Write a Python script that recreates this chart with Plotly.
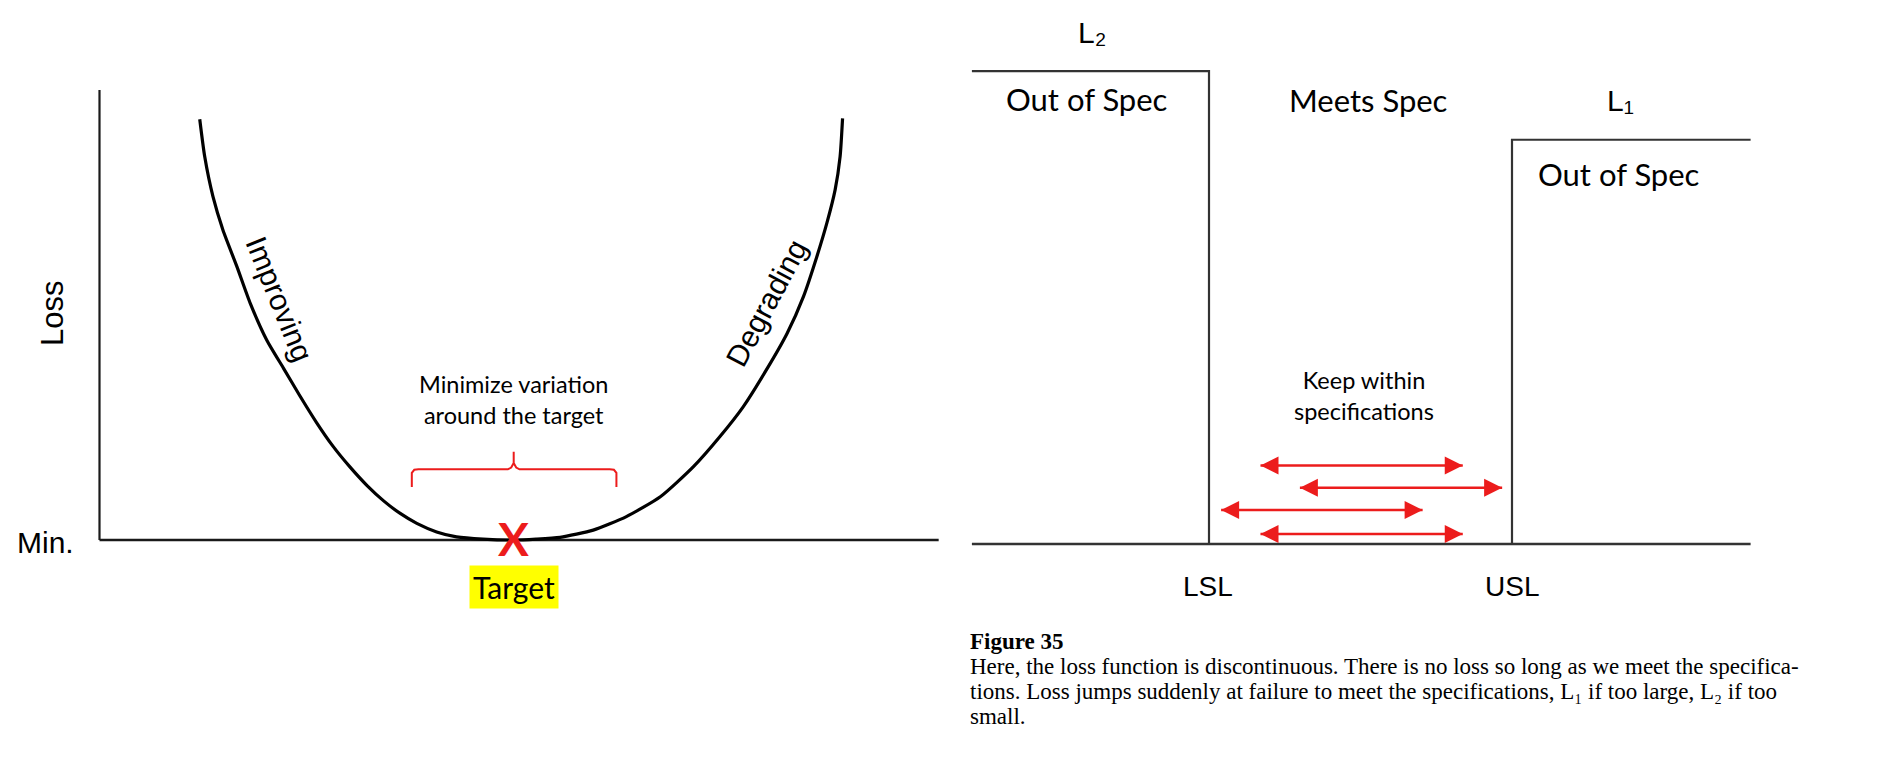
import plotly.graph_objects as go

# ---------------- data ----------------
# Left panel: loss curve (quality characteristic vs. loss)
curve_x = [1.21, 1.27, 1.37, 1.49, 1.66, 1.82, 2.02, 2.22, 2.42, 2.62, 2.82, 3.02, 3.23, 3.43,
           3.63, 3.83, 4.07, 4.31, 4.63, 5.00, 5.27, 5.56, 5.96, 6.36, 6.77, 7.17, 7.49, 7.77,
           8.05, 8.30, 8.50, 8.66, 8.78, 8.88, 8.94, 8.97]
curve_y = [9.35, 8.52, 7.63, 6.89, 6.07, 5.26, 4.44, 3.82, 3.20, 2.61, 2.08, 1.63, 1.21, 0.87,
           0.59, 0.37, 0.18, 0.07, 0.02, 0.00, 0.02, 0.06, 0.22, 0.52, 0.96, 1.63, 2.30, 2.96,
           3.78, 4.59, 5.42, 6.30, 7.04, 7.78, 8.52, 9.37]
target_x = 5.0
min_loss = 0.0
left_axis_x = [0.0, 10.13]
left_axis_y = [0.0, 10.0]
brace_x = [3.77, 3.77, 3.80, 3.85, 4.93, 4.97, 5.00, 5.00, 5.00, 5.03, 5.07, 6.16, 6.21, 6.24, 6.24]
brace_y = [1.18, 1.49, 1.56, 1.57, 1.57, 1.61, 1.71, 1.96, 1.71, 1.61, 1.57, 1.57, 1.56, 1.49, 1.18]

# Right panel: discontinuous (step) loss function
LSL, USL = 3.0, 7.0
L1, L2 = 8.55, 10.0
spec_x_start, spec_x_end = -0.13, 10.15
arrow_left = [3.68, 4.20, 3.16, 3.68]
arrow_right = [6.35, 6.87, 5.82, 6.35]
arrow_y = [1.66, 1.19, 0.72, 0.21]

caption_title = "Figure 35"
caption_lines = [
    "Here, the loss function is discontinuous. There is no loss so long as we meet the specifica-",
    "tions. Loss jumps suddenly at failure to meet the specifications, L\u2081 if too large, L\u2082 if too",
    "small.",
]

# ---------------- layout helpers ----------------
PAGE_W, PAGE_H = 1898, 762
OFF = 8                      # default body margin of the html page
Wf, Hf = PAGE_W - 2 * OFF, PAGE_H - 2 * OFF - 2
RED = "#ec1c1c"
SANS = "Liberation Sans, Arial, sans-serif"
CAL = "Lato, Open Sans, sans-serif"
SERIF = "Liberation Serif, Times New Roman, serif"

# left panel scale (page pixels)
Lx0, Lppx, Ly0, Lppy = 99.5, 82.84, 540.0, 45.0
# right panel scale (page pixels)
Rx_lsl, Rppx, Ry0, Rppy = 1209.0, 75.75, 544.0, 47.28
SPLIT = 949

def fx(xp):
    return (xp - OFF) / Wf

def fy(yp):
    return 1 - (yp - OFF) / Hf

fig = go.Figure()

# left panel axes lines
fig.add_trace(go.Scatter(x=left_axis_x, y=[min_loss, min_loss], mode="lines",
                         line=dict(color="#1a1a1a", width=2.4), xaxis="x", yaxis="y",
                         hoverinfo="skip"))
fig.add_trace(go.Scatter(x=[0, 0], y=left_axis_y, mode="lines",
                         line=dict(color="#1a1a1a", width=2.2), xaxis="x", yaxis="y",
                         hoverinfo="skip"))
# loss curve
fig.add_trace(go.Scatter(x=curve_x, y=curve_y, mode="lines",
                         line=dict(color="black", width=3.2, shape="spline", smoothing=0.6),
                         xaxis="x", yaxis="y", hoverinfo="skip"))
# red brace
fig.add_trace(go.Scatter(x=brace_x, y=brace_y, mode="lines",
                         line=dict(color=RED, width=2), xaxis="x", yaxis="y",
                         hoverinfo="skip"))

# right panel: baseline and step function
fig.add_trace(go.Scatter(x=[spec_x_start, spec_x_end], y=[0, 0], mode="lines",
                         line=dict(color="#333333", width=2.4), xaxis="x2", yaxis="y2",
                         hoverinfo="skip"))
fig.add_trace(go.Scatter(x=[spec_x_start, LSL, LSL, USL, USL, spec_x_end],
                         y=[L2, L2, 0, 0, L1, L1], mode="lines",
                         line=dict(color="#333333", width=2.2), xaxis="x2", yaxis="y2",
                         hoverinfo="skip"))

# double-headed red arrows
for xl, xr, yv in zip(arrow_left, arrow_right, arrow_y):
    fig.add_trace(go.Scatter(x=[xl, xr], y=[yv, yv], mode="lines+markers",
                             line=dict(color=RED, width=2.6),
                             marker=dict(symbol=["arrow-left", "arrow-right"], size=18,
                                         color=RED, line=dict(width=0)),
                             xaxis="x2", yaxis="y2", hoverinfo="skip"))

ann = []

def label(text, xp, yp, size, family=SANS, color="black", angle=0, xanchor="center", **kw):
    ann.append(dict(text=text, x=fx(xp), y=fy(yp), xref="paper", yref="paper", showarrow=False,
                    font=dict(size=size, family=family, color=color), textangle=angle,
                    xanchor=xanchor, yanchor="middle", **kw))

# left panel texts
label("Loss", 52, 314, 31, angle=-90)
label("Min.", 45, 542, 30)
label("Improving", 280, 299, 30, angle=68)
label("Degrading", 766, 303, 30, angle=-62)
label("Minimize variation<br>around the target", 514, 399, 23.5, family=CAL)
ann.append(dict(text="<b>X</b>", x=target_x, y=min_loss, xref="x", yref="y", showarrow=False,
                font=dict(size=46, family=CAL, color=RED), xanchor="center", yanchor="middle",
                yshift=2))
label("Target", 514, 587, 30, family=CAL, bgcolor="#ffff00", borderpad=3)

# right panel texts
label("L\u2082", 1092, 33, 30)
label("Out of Spec", 1087, 99, 31, family=CAL)
label("Meets Spec", 1368, 100, 31, family=CAL)
label("L\u2081", 1620, 100, 30)
label("Out of Spec", 1619, 174, 31, family=CAL)
label("Keep within<br>specifications", 1364, 395, 23.5, family=CAL)
label("LSL", 1208, 586, 28)
label("USL", 1512, 586, 28)

# caption
label("<b>" + caption_title + "</b>", 968, 641, 23, family=SERIF, xanchor="left")
for i, line in enumerate(caption_lines):
    label(line, 968, 666 + 25 * i, 23, family=SERIF, xanchor="left")

fig.update_layout(
    width=Wf, height=Hf, margin=dict(l=0, r=0, t=0, b=0),
    paper_bgcolor="white", plot_bgcolor="white", showlegend=False,
    xaxis=dict(domain=[0, fx(SPLIT)], range=[(OFF - Lx0) / Lppx, (SPLIT - Lx0) / Lppx],
               visible=False),
    yaxis=dict(domain=[0, 1], range=[(Ly0 - (OFF + Hf)) / Lppy, (Ly0 - OFF) / Lppy],
               visible=False),
    xaxis2=dict(domain=[fx(SPLIT), 1],
                range=[LSL + (SPLIT - Rx_lsl) / Rppx, LSL + (OFF + Wf - Rx_lsl) / Rppx],
                visible=False, anchor="y2"),
    yaxis2=dict(domain=[0, 1], range=[(Ry0 - (OFF + Hf)) / Rppy, (Ry0 - OFF) / Rppy],
                visible=False, anchor="x2"),
    annotations=ann,
)

fig.write_html("out.html")
